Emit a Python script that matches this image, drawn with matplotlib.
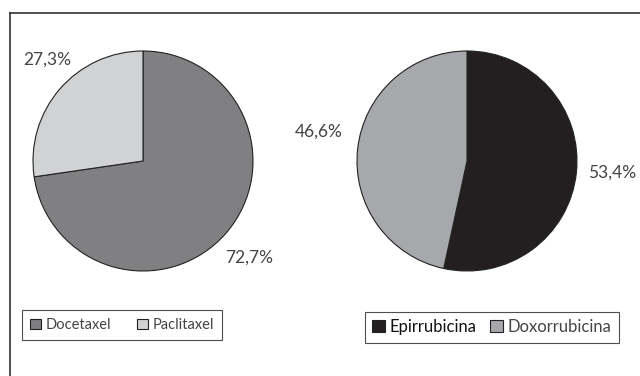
import matplotlib.pyplot as plt
from matplotlib.lines import Line2D

plt.rcParams['font.family'] = ['Lato', 'DejaVu Sans']

taxanos = ['Docetaxel', 'Paclitaxel']
taxanos_pct = [72.7, 27.3]
taxanos_cores = ['#808083', '#d1d2d4']

antraciclinas = ['Epirrubicina', 'Doxorrubicina']
antraciclinas_pct = [53.4, 46.6]
antraciclinas_cores = ['#231f20', '#a7a8ab']

W, H = 640, 376
fig = plt.figure(figsize=(W / 100, H / 100), dpi=100)

# moldura externa (só esquerda e topo aparecem)
fig.add_artist(Line2D([10 / W, 10 / W], [0, 1 - 13 / H], color='#333333', lw=1.2))
fig.add_artist(Line2D([10 / W, 1], [1 - 13 / H, 1 - 13 / H], color='#333333', lw=1.2))


def pizza(cx, cy, r, valores, cores, rotulos_pos):
    ax = fig.add_axes([(cx - r) / W, 1 - (cy + r) / H, 2 * r / W, 2 * r / H])
    wedges, _ = ax.pie(valores, colors=cores, startangle=90, counterclock=False,
                       wedgeprops=dict(edgecolor='#222222', linewidth=0.8))
    ax.set_xlim(-1, 1)
    ax.set_ylim(-1, 1)
    ax.set_aspect('auto')
    for v, (px, py) in zip(valores, rotulos_pos):
        fig.text(px / W, 1 - py / H, f'{v:.1f}%'.replace('.', ','),
                 fontsize=12.5, color='#444444', ha='center', va='center')
    return wedges


w1 = pizza(143, 161, 110, taxanos_pct, taxanos_cores, [(249, 258), (47, 60)])
w2 = pizza(467, 161, 110, antraciclinas_pct, antraciclinas_cores, [(612, 173), (319, 132)])

leg1 = fig.legend(w1, taxanos, loc='center', bbox_to_anchor=(122 / W, 1 - 325 / H),
                  ncol=2, frameon=True, fancybox=False, edgecolor='#222222',
                  fontsize=10.5, handlelength=0.75, handleheight=0.75,
                  columnspacing=1.8, borderpad=0.55, handletextpad=0.3,
                  labelcolor='#444444')
leg1.get_frame().set_linewidth(0.8)
leg2 = fig.legend(w2, antraciclinas, loc='center', bbox_to_anchor=(492 / W, 1 - 327 / H),
                  ncol=2, frameon=True, fancybox=False, edgecolor='#222222',
                  fontsize=12, handlelength=0.75, handleheight=0.75,
                  columnspacing=0.8, borderpad=0.45, handletextpad=0.3,
                  labelcolor='#444444')
leg2.get_frame().set_linewidth(0.8)
leg2.get_texts()[0].set_color('#111111')

fig.savefig('out.png', dpi=100)
